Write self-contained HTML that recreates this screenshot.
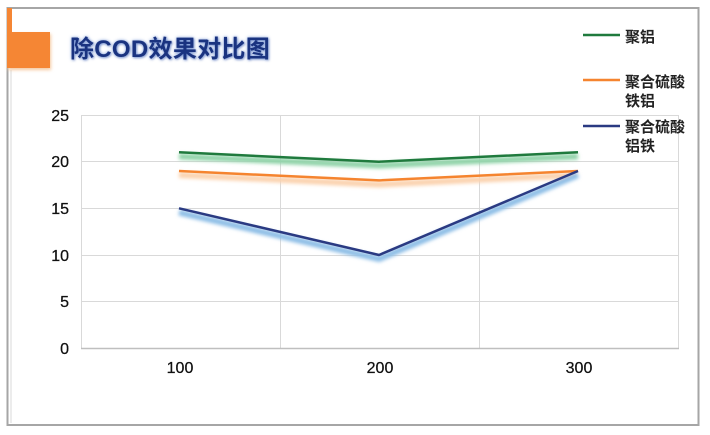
<!DOCTYPE html>
<html><head><meta charset="utf-8"><style>
html,body{margin:0;padding:0;background:#fff;}
body{width:710px;height:435px;position:relative;overflow:hidden;}
svg{position:absolute;left:0;top:0;}
.title{position:absolute;left:70px;top:35px;font-family:"Liberation Sans","Noto Sans CJK SC",sans-serif;font-weight:bold;font-size:24px;line-height:30px;color:#1a3380;text-shadow:0 0 3px rgba(90,130,210,0.7),1px 1px 2px rgba(60,90,170,0.5);white-space:nowrap;letter-spacing:0.3px;}
</style></head><body>
<svg width="710" height="435" viewBox="0 0 710 435" xmlns="http://www.w3.org/2000/svg" font-family="Liberation Sans, Noto Sans CJK SC, sans-serif">
<defs>
<filter id="blur" x="-10%" y="-50%" width="120%" height="200%"><feGaussianBlur stdDeviation="1.8"/></filter>
<filter id="sh" x="-20%" y="-20%" width="140%" height="160%"><feGaussianBlur stdDeviation="1.5"/></filter>
</defs>
<!-- frame -->
<rect x="7.5" y="8" width="691" height="417" fill="#fff" stroke="#a6a6a6" stroke-width="2"/>
<line x1="11" y1="70" x2="11" y2="423" stroke="#d8d8d8" stroke-width="1"/>
<!-- orange title marker -->
<rect x="8" y="34" width="43" height="36" fill="#f5c9a0" filter="url(#sh)"/>
<rect x="7" y="8" width="5" height="26" fill="#f58634"/>
<rect x="7" y="32" width="43" height="36" fill="#f58634"/>
<!-- plot area -->
<g stroke="#d9d9d9" stroke-width="1" fill="none">
<line x1="81" y1="115.5" x2="678" y2="115.5"/>
<line x1="81" y1="161.5" x2="678" y2="161.5"/>
<line x1="81" y1="208.5" x2="678" y2="208.5"/>
<line x1="81" y1="255.5" x2="678" y2="255.5"/>
<line x1="81" y1="301.5" x2="678" y2="301.5"/>
<line x1="81.5" y1="115" x2="81.5" y2="348"/>
<line x1="280.5" y1="115" x2="280.5" y2="348"/>
<line x1="479.5" y1="115" x2="479.5" y2="348"/>
<line x1="678.5" y1="115" x2="678.5" y2="348"/>
</g>
<line x1="81" y1="348.5" x2="679" y2="348.5" stroke="#bfbfbf" stroke-width="1.5"/>
<!-- y labels -->
<g font-size="16" fill="#111" text-anchor="end" stroke="#111" stroke-width="0.25">
<text x="69" y="121">25</text>
<text x="69" y="167">20</text>
<text x="69" y="214">15</text>
<text x="69" y="261">10</text>
<text x="69" y="307">5</text>
<text x="69" y="354">0</text>
</g>
<!-- x labels -->
<g font-size="16" fill="#111" text-anchor="middle" stroke="#111" stroke-width="0.25">
<text x="180" y="373">100</text>
<text x="380" y="373">200</text>
<text x="579" y="373">300</text>
</g>
<!-- shadows -->
<g fill="none" stroke-linejoin="round" filter="url(#blur)">
<polyline points="179,156.5 379,165.5 578,156.5" stroke="#8fd3a8" stroke-width="6"/>
<polyline points="179,175 379,184.5 578,175" stroke="#fbd2ae" stroke-width="6"/>
<polyline points="179,212.5 379,259 578,175" stroke="#8cbde6" stroke-width="6"/>
</g>
<!-- series -->
<g fill="none" stroke-width="2.5" stroke-linejoin="round">
<polyline points="179,152.3 379,161.7 578,152.3" stroke="#1f7a3d"/>
<polyline points="179,171 379,180.4 578,171" stroke="#f5842f"/>
<polyline points="179,208.3 379,255 578,171" stroke="#2a3a82"/>
</g>
<!-- legend -->
<g stroke-width="2.5">
<line x1="583" y1="35" x2="620" y2="35" stroke="#1f7a3d"/>
<line x1="583" y1="80" x2="620" y2="80" stroke="#f5842f"/>
<line x1="583" y1="126" x2="620" y2="126" stroke="#2a3a82"/>
</g>
<g font-size="15" font-weight="bold" fill="#222">
<text x="625" y="42">聚铝</text>
<text x="625" y="87">聚合硫酸</text>
<text x="625" y="106">铁铝</text>
<text x="625" y="132">聚合硫酸</text>
<text x="625" y="151">铝铁</text>
</g>
</svg>
<div class="title">除COD效果对比图</div>
</body></html>
